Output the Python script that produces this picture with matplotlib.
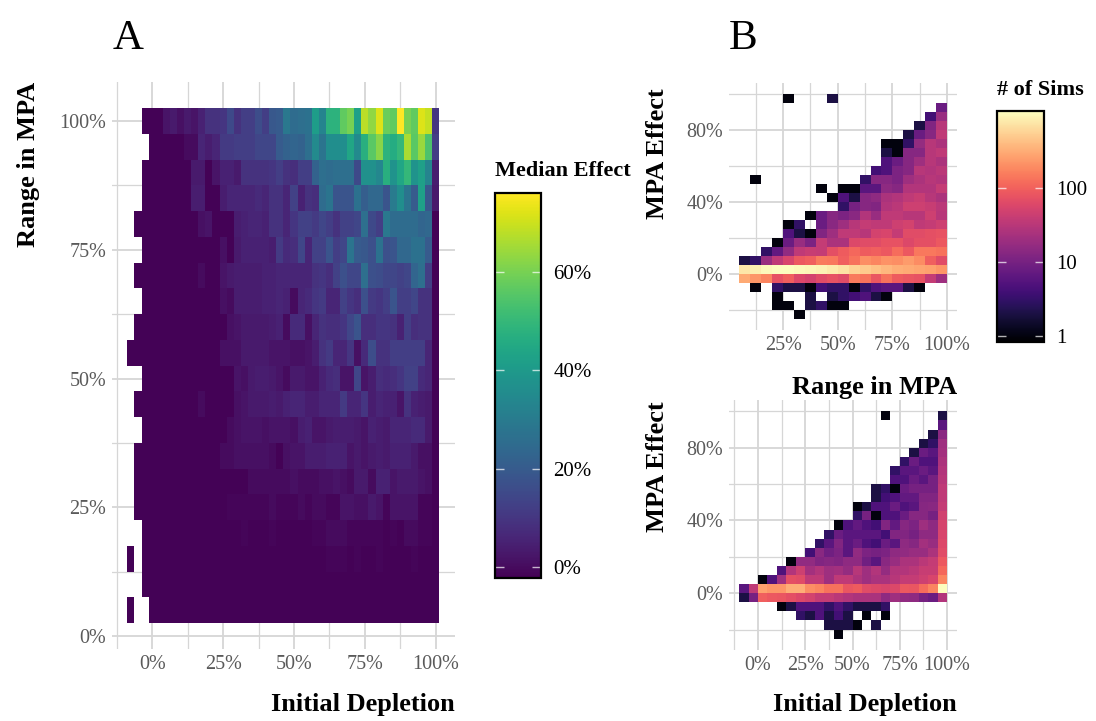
"""Median MPA effect heatmap (A) and simulation count heatmaps (B)."""
import numpy as np
import matplotlib
matplotlib.use("Agg")
import matplotlib.pyplot as plt
from matplotlib.colors import LogNorm, Normalize

W, H = 1096, 721
n = np.nan
z = -1.8  # the darkest cells, just above the bottom of the colour bar

plt.rcParams["font.family"] = ["Liberation Serif", "DejaVu Serif"]

# Panel A: median effect (%), one row per range in MPA, columns are depletion bins
depletion_bins = np.arange(-7.5, 100.1, 2.5)
range_bins = np.arange(100, 0, -5)

r100 = [n, n, z, z, z, 2, 3, 1, 3, 2, 5,
        9, 9, 10, 15, 9, 12, 12, 16, 12, 19, 20,
        29, 25, 26, 27, 41, 33, 48, 48, 57, 60, 42,
        68, 63, 72, 58, 57, 76, 60, 57, 72, 69, 10]
r95 = [n, n, n, z, z, z, z, z, 0, 0, 6,
       4, 6, 11, 11, 12, 12, 12, 14, 14, 14, 20,
       22, 23, 22, 26, 35, 28, 36, 36, 36, 44, 35,
       47, 56, 62, 48, 46, 50, 66, 56, 64, 54, 12]
r90 = [n, n, z, z, z, z, z, z, z, 3, 3,
       z, 2, 5, 5, 3, 9, 9, 9, 9, 10, 12,
       9, 8, 12, 12, 22, 26, 25, 26, 26, 26, 15,
       37, 37, 34, 47, 38, 44, 50, 38, 42, 33, 4]
r85 = [n, n, z, z, z, z, z, z, z, 4, 4,
       z, z, 4, 6, 6, 6, 6, 7, 6, 9, 9,
       6, 13, 5, 9, 8, 25, 28, 18, 18, 18, 27,
       21, 24, 24, 18, 30, 36, 28, 20, 42, 19, 3]
r80 = [n, z, z, z, z, z, z, z, z, z, 1,
       2, z, z, z, 4, 5, 6, 6, 5, 9, 9,
       6, 10, 13, 13, 11, 14, 12, 9, 13, 13, 14,
       26, 15, 12, 29, 25, 25, 25, 25, 23, 24, z]
r75 = [n, n, z, z, z, z, z, z, z, z, z,
       z, z, 1, z, 3, 5, 5, 5, 5, 4, 11,
       7, 8, 14, 6, 13, 13, 18, 12, 14, 28, 20,
       19, 17, 27, 17, 18, 24, 24, 27, 27, 20, z]
r70 = [n, z, z, z, z, z, z, z, z, z, 0,
       z, z, 2, 3, 4, 4, 4, 4, 5, 5, 6,
       6, 6, 6, 6, 9, 10, 8, 13, 17, 14, 14,
       26, 17, 16, 14, 14, 13, 14, 23, 26, 12, z]
r65 = [n, n, z, z, z, z, z, z, z, z, z,
       z, z, 1, 0, 4, 4, 4, 4, 5, 5, 6,
       5, 0, 6, 7, 10, 11, 6, 6, 13, 10, 8,
       17, 11, 10, 12, 18, 12, 12, 14, 9, 9, z]
r60 = [n, z, z, z, z, z, z, z, z, z, z,
       z, z, z, 1, 2, 3, 3, 3, 3, 4, 5,
       0, 7, 7, 1, 6, 9, 8, 8, 10, 14, 18,
       8, 8, 10, 10, 9, 5, 12, 8, 9, 9, z]
r55 = [z, z, z, z, z, z, z, z, z, z, z,
       z, z, 1, 1, 1, 3, 3, 3, 3, 2, 2,
       2, 1, 1, 2, 4, 9, 11, 6, 6, 10, 1,
       7, 16, 9, 9, 12, 12, 12, 12, 12, 6, z]
r50 = [n, n, z, z, z, z, z, z, z, z, z,
       z, z, z, z, 2, 1, 3, 4, 4, 3, 2,
       0, 3, 3, 2, 2, 5, 7, 8, 2, 2, 14,
       2, 4, 8, 7, 8, 10, 13, 13, 7, 6, z]
r45 = [n, z, z, z, z, z, z, z, z, z, 0,
       z, z, z, z, 1, 2, 3, 3, 3, 4, 3,
       5, 6, 6, 4, 4, 6, 6, 6, 11, 6, 6,
       10, 4, 6, 5, 5, 2, 9, 5, 4, 3, z]
r40 = [n, n, z, z, z, z, z, z, z, z, z,
       z, z, z, 0, 1, 2, 2, 2, 1, 2, 2,
       2, 1, 4, 5, 2, 2, 3, 4, 4, 4, 3,
       2, 5, 4, 3, 6, 6, 6, 7, 7, 3, z]
r35 = [n, z, z, z, z, z, z, z, z, z, z,
       z, z, 0, 0, 1, 1, 1, 1, 1, 0, z,
       1, 2, 2, 4, 4, 4, 5, 5, 5, 2, 3,
       2, 3, 4, 3, 5, 5, 5, 3, 1, 1, z]
r30 = [n, z, z, z, z, z, z, z, z, z, z,
       z, z, z, z, z, z, 0, 0, 0, 0, 0,
       0, 1, 0, 0, 0, 1, 1, 2, 1, 0, 3,
       3, 0, 5, 5, 2, 3, 3, 3, 2, 1, z]
r25 = [n, z, z, z, z, z, z, z, z, z, z,
       z, z, z, -1, -1, -1, -1, -1, -1, 0, -1,
       -1, -1, 0, -1, 0, 0, -1, -1, 2, 2, 1,
       1, 3, 2, -1, 2, 2, 2, 2, -1, -1, z]
r20 = [n, n, z, z, z, z, z, z, z, z, z,
       z, z, z, z, z, -1, z, z, z, -1, z,
       z, z, z, z, -1, -1, 0, 0, 0, -1, -1,
       -1, -1, -1, z, -1, z, 0, 0, -1, -1, z]
r15 = [z, n, z, z, z, z, z, z, z, z, z,
       z, z, z, z, z, z, z, z, z, z, z,
       z, z, z, z, z, z, -1, -1, -1, z, -1,
       z, z, -1, z, z, z, z, -1, z, z, z]
r10 = [n, n, z, z, z, z, z, z, z, z, z] + [z] * 33
r5 = [z, n, n, z, z, z, z, z, z, z, z] + [z] * 33

effect_rows = [r100, r95, r90, r85, r80, r75, r70, r65, r60, r55,
               r50, r45, r40, r35, r30, r25, r20, r15, r10, r5]

# Panel B: number of sims per bin, rows run from 95-100% down to -25 to -20%
effect_bin_edges = np.arange(-25, 101, 5)

range_bin_edges = np.arange(5, 101, 5)
sims_by_range = [
    [n, n, n, n, 1, n, n, n, 2, n, n, n, n, n, n, n, n, n, n],
    [n, n, n, n, n, n, n, n, n, n, n, n, n, n, n, n, n, n, 8],
    [n, n, n, n, n, n, n, n, n, n, n, n, n, n, n, n, n, 4, 18],
    [n, n, n, n, n, n, n, n, n, n, n, n, n, n, n, n, 2, 12, 30],
    [n, n, n, n, n, n, n, n, n, n, n, n, n, n, n, 2, 8, 13, 35],
    [n, n, n, n, n, n, n, n, n, n, n, n, n, 1, 1, 3, 17, 30, 25],
    [n, n, n, n, n, n, n, n, n, n, n, n, n, 2, 1, 13, 13, 30, 35],
    [n, n, n, n, n, n, n, n, n, n, n, n, n, 5, 8, 13, 20, 30, 25],
    [n, n, n, n, n, n, n, n, n, n, n, n, 4, 5, 11, 13, 30, 28, 32],
    [n, 1, n, n, n, n, n, n, n, n, n, 3, 13, 13, 11, 20, 25, 30, 28],
    [n, n, n, n, n, n, n, 1, n, 1, 1, 6, 6, 15, 13, 28, 28, 28, 38],
    [n, n, n, n, n, n, n, n, 1, 5, 2, 13, 15, 25, 28, 35, 40, 30, 25],
    [n, n, n, n, n, n, n, n, n, 3, 10, 13, 12, 28, 32, 45, 45, 40, 32],
    [n, n, n, n, n, n, 1, 8, 13, 11, 14, 28, 18, 35, 35, 30, 30, 45, 30],
    [n, n, n, n, 1, 3, n, 8, 14, 20, 30, 38, 35, 35, 45, 50, 35, 38, 45],
    [n, n, n, n, 5, 2, 1, 12, 20, 35, 35, 30, 50, 55, 38, 65, 65, 70, 75],
    [n, n, n, 1, 8, 18, 11, 38, 25, 25, 60, 65, 65, 75, 75, 60, 70, 70, 85],
    [n, n, 3, 7, 16, 35, 40, 38, 70, 90, 110, 90, 95, 85, 120, 85, 140, 140, 130],
    [2, 3, 18, 35, 55, 85, 95, 150, 140, 95, 130, 200, 170, 210, 200, 240, 190, 95, 65],
    [750, 850, 1000, 1050, 1070, 1000, 950, 900, 800, 700, 550, 480, 420, 370, 320, 300, 280, 260, 220],
    [300, 220, 170, 75, 95, 60, 50, 65, 75, 65, 150, 130, 80, 130, 90, 80, 75, 38, 20],
    [n, 1, n, 3, 2, 2, 1, 4, 3, 3, 1, 3, 5, 6, 6, 2, 1, n, n],
    [n, n, n, 1, n, n, 2, n, 2, 3, 4, 5, 2, 1, n, n, n, n, n],
    [n, n, n, 1, 1, n, 2, 3, 1, 1, n, n, n, n, n, n, n, n, n],
    [n, n, n, n, n, 1, n, n, n, n, n, n, n, n, n, n, n, n, n],
]

depletion_bin_edges = np.arange(-10, 101, 5)
sims_by_depletion = [
    [n, n, n, n, n, n, n, n, n, n, n, n, n, n, n, 1, n, n, n, n, n, 2],
    [n, n, n, n, n, n, n, n, n, n, n, n, n, n, n, n, n, n, n, n, n, 6],
    [n, n, n, n, n, n, n, n, n, n, n, n, n, n, n, n, n, n, n, n, 2, 14],
    [n, n, n, n, n, n, n, n, n, n, n, n, n, n, n, n, n, n, n, 2, 3, 20],
    [n, n, n, n, n, n, n, n, n, n, n, n, n, n, n, n, n, n, 2, 8, 6, 22],
    [n, n, n, n, n, n, n, n, n, n, n, n, n, n, n, n, n, 3, 8, 5, 5, 25],
    [n, n, n, n, n, n, n, n, n, n, n, n, n, n, n, n, 3, 6, 6, 8, 6, 28],
    [n, n, n, n, n, n, n, n, n, n, n, n, n, n, n, n, 5, 5, 8, 6, 10, 30],
    [n, n, n, n, n, n, n, n, n, n, n, n, n, n, 2, 3, 1, 8, 10, 10, 10, 35],
    [n, n, n, n, n, n, n, n, n, n, n, n, n, n, 2, 4, 5, 7, 7, 12, 12, 35],
    [n, n, n, n, n, n, n, n, n, n, n, n, 1, 2, 5, 5, 8, 5, 6, 13, 14, 38],
    [n, n, n, n, n, n, n, n, n, n, n, n, 3, 10, 1, 5, 5, 8, 13, 13, 10, 48],
    [n, n, n, n, n, n, n, n, n, n, 1, 5, 7, 5, 4, 12, 7, 13, 11, 20, 15, 52],
    [n, n, n, n, n, n, n, n, n, 3, 8, 6, 6, 6, 6, 4, 12, 12, 10, 15, 15, 55],
    [n, n, n, n, n, n, n, n, 3, 6, 12, 6, 8, 5, 4, 8, 6, 15, 13, 22, 18, 60],
    [n, n, n, n, n, n, n, 4, 14, 9, 11, 6, 16, 11, 10, 11, 15, 16, 18, 18, 25, 65],
    [n, n, n, n, n, 1, 16, 16, 12, 13, 12, 15, 15, 9, 6, 14, 18, 25, 25, 32, 38, 85],
    [n, n, n, n, 5, 28, 45, 22, 28, 20, 22, 17, 30, 20, 28, 17, 28, 28, 32, 40, 40, 110],
    [n, n, 1, 5, 20, 70, 65, 35, 35, 20, 35, 35, 26, 20, 24, 24, 30, 38, 38, 45, 55, 170],
    [6, 35, 260, 220, 220, 320, 320, 200, 170, 130, 130, 80, 90, 65, 60, 55, 60, 85, 80, 120, 170, 1050],
    [2, 10, 95, 85, 80, 70, 60, 50, 38, 38, 32, 28, 25, 25, 24, 15, 20, 16, 15, 10, 8, 28],
    [n, n, n, n, 1, 2, 5, 5, 5, 3, 5, 3, 2, 2, 2, 3, n, n, n, n, n, n],
    [n, n, n, n, n, n, 3, 2, 5, 2, 4, 2, n, 1, n, 1, n, n, n, n, n, n],
    [n, n, n, n, n, n, n, n, n, 2, 2, 2, 1, n, 2, n, n, n, n, n, n, n],
    [n, n, n, n, n, n, n, n, n, n, 1, n, n, n, n, n, n, n, n, n, n, n],
]

GREY = "#5a5a5a"
GRID = "#d6d6d6"
TICK_SIZE = 14.5
TITLE_SIZE = 19


def px_axes(fig, left, top, right, bottom):
    return fig.add_axes([left / W, 1 - bottom / H,
                         (right - left) / W, (bottom - top) / H])


def px_text(fig, x, y, s, **kw):
    fig.text(x / W, 1 - y / H, s, **kw)


def pct(vals):
    return [f"{v:g}%" for v in vals]


def style_axes(ax, xticks, xminor, yticks, yminor, xlim, ylim, pad=4):
    ax.set_xlim(*xlim)
    ax.set_ylim(*ylim)
    ax.set_xticks(xticks, pct(xticks))
    ax.set_yticks(yticks, pct(yticks))
    ax.set_xticks(xminor, minor=True)
    ax.set_yticks(yminor, minor=True)
    ax.tick_params(which="both", length=0)
    ax.tick_params(labelsize=TICK_SIZE, labelcolor=GREY, pad=pad)
    ax.grid(True, which="major", color=GRID, lw=1.3)
    ax.grid(True, which="minor", color=GRID, lw=0.9)
    ax.set_axisbelow(True)
    for side in ax.spines.values():
        side.set_visible(False)


def add_colorbar(fig, mesh, left, top, right, bottom, ticks, labels):
    cax = px_axes(fig, left, top, right, bottom)
    cb = fig.colorbar(mesh, cax=cax)
    cb.minorticks_off()
    cb.set_ticks(ticks, labels=labels)
    cax.tick_params(length=0, labelsize=15, pad=9, labelcolor="black")
    cb.outline.set_edgecolor("black")
    cb.outline.set_linewidth(1.6)
    trans = cax.get_yaxis_transform()
    cax.hlines(ticks, 0, 0.2, color="white", lw=1, alpha=0.7, transform=trans)
    cax.hlines(ticks, 0.8, 1, color="white", lw=1, alpha=0.7, transform=trans)


fig = plt.figure(figsize=(W / 100, H / 100), dpi=100)

# Panel A
ax_a = px_axes(fig, 111.8, 82.4, 455, 649)
x_edges = np.append(depletion_bins - 1.25, depletion_bins[-1] + 1.25)
y_edges = np.append(range_bins + 2.5, range_bins[-1] - 2.5)
effect_norm = Normalize(-2.2, 76)
mesh_a = ax_a.pcolormesh(x_edges, y_edges, np.ma.masked_invalid(np.array(effect_rows, float)),
                         cmap="viridis", norm=effect_norm, linewidth=0, rasterized=True)
style_axes(ax_a, [0, 25, 50, 75, 100], [-12.5, 12.5, 37.5, 62.5, 87.5],
           [0, 25, 50, 75, 100], [12.5, 37.5, 62.5, 87.5],
           (-14.25, 106.75), (-2.5, 107.5))
add_colorbar(fig, mesh_a, 495, 193, 541, 578, [0, 20, 40, 60],
             ["0%", "20%", "40%", "60%"])

# Panel B, top
count_norm = LogNorm(vmin=0.84, vmax=1070)
ax_top = px_axes(fig, 729, 83, 957.4, 330)
mesh_top = ax_top.pcolormesh(range_bin_edges, effect_bin_edges[::-1],
                             np.ma.masked_invalid(np.array(sims_by_range, float)),
                             cmap="magma", norm=count_norm, linewidth=0, rasterized=True)
style_axes(ax_top, [25, 50, 75, 100], [12.5, 37.5, 62.5, 87.5],
           [0, 40, 80], [-20, 20, 60, 100],
           (0.25, 104.75), (-31.25, 106.25))
add_colorbar(fig, mesh_top, 997, 111, 1044, 342, [1, 10, 100], ["1", "10", "100"])

# Panel B, bottom
ax_bot = px_axes(fig, 728.7, 400, 957.4, 650)
ax_bot.pcolormesh(depletion_bin_edges, effect_bin_edges[::-1],
                  np.ma.masked_invalid(np.array(sims_by_depletion, float)),
                  cmap="magma", norm=count_norm, linewidth=0, rasterized=True)
style_axes(ax_bot, [0, 25, 50, 75, 100], [-12.5, 12.5, 37.5, 62.5, 87.5],
           [0, 40, 80], [-20, 20, 60, 100],
           (-15.5, 105.5), (-31.25, 106.25))

# Labels
title_kw = dict(fontsize=TITLE_SIZE, fontweight="bold", color="black")
px_text(fig, 113, 49, "A", fontsize=31, va="baseline")
px_text(fig, 729, 49, "B", fontsize=31, va="baseline")
px_text(fig, 455, 711, "Initial Depletion", ha="right", va="baseline", **title_kw)
px_text(fig, 957, 711, "Initial Depletion", ha="right", va="baseline", **title_kw)
px_text(fig, 957, 394, "Range in MPA", ha="right", va="baseline", **title_kw)
px_text(fig, 40, 82, "Range in MPA", rotation=90, ha="right", va="top", **title_kw)
px_text(fig, 669, 88, "MPA Effect", rotation=90, ha="right", va="top", **title_kw)
px_text(fig, 669, 401, "MPA Effect", rotation=90, ha="right", va="top", **title_kw)
px_text(fig, 495, 176, "Median Effect", fontsize=16, fontweight="bold", va="baseline")
px_text(fig, 997, 95, "# of Sims", fontsize=16, fontweight="bold", va="baseline")

fig.savefig("out.png", dpi=100)
